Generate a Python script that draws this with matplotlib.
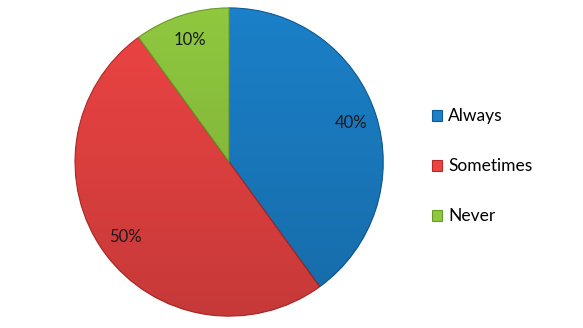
import numpy as np
import matplotlib.pyplot as plt

labels = ['Always', 'Sometimes', 'Never']
values = [40, 50, 10]
colors = ['#1b80c8', '#ec4443', '#8fc83f']
edges = ['#0d5a94', '#b32a28', '#6a9a2a']

plt.rcParams['font.family'] = ['Lato', 'DejaVu Sans']

fig = plt.figure(figsize=(5.83, 3.28), dpi=100)
ax = fig.add_axes([0.393 - 0.267, 0.506 - 0.475, 0.534, 0.95])

wedges, texts, autotexts = ax.pie(values, colors=colors, startangle=90, counterclock=False,
                                  autopct='%d%%', pctdistance=0.83,
                                  wedgeprops=dict(linewidth=0.8),
                                  textprops=dict(fontsize=12, color='#1a1a1a'))
for w, e in zip(wedges, edges):
    w.set_edgecolor(e)

# soft darkening towards the bottom, like the original
shade = np.zeros((256, 2, 4))
shade[:, :, 3] = np.linspace(0, 0.16, 256)[:, None]
for w in wedges:
    im = ax.imshow(shade, extent=[-1, 1, -1, 1], origin='upper',
                   zorder=w.get_zorder() + 0.1, aspect='auto')
    im.set_clip_path(w)
for t in autotexts:
    t.set_zorder(10)
ax.set_xlim(-1.01, 1.01)
ax.set_ylim(-1.01, 1.01)
ax.set_aspect('equal')
ax.axis('off')

fig.legend(wedges, labels, loc='center left', bbox_to_anchor=(0.714, 0.493),
           frameon=False, fontsize=12.5, handlelength=0.6, handleheight=0.6,
           handletextpad=0.35, labelspacing=1.95)

fig.savefig('out.png', dpi=100)
